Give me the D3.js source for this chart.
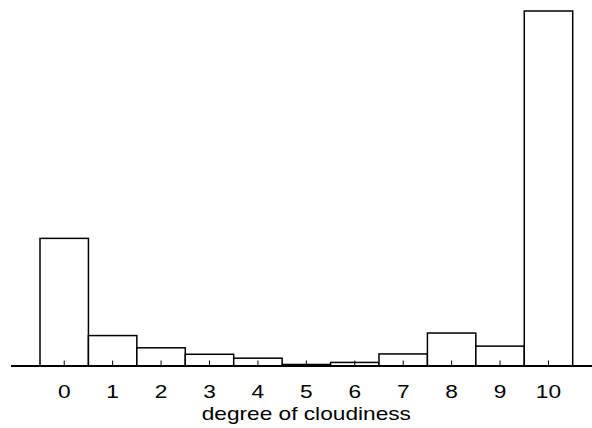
<!DOCTYPE html>
<html>
<head>
<meta charset="utf-8">
<script src="https://cdn.jsdelivr.net/npm/d3@7"></script>
<style>
  body { margin: 0; background: #fff; }
  svg text { font-family: "Liberation Sans", Arial, Helvetica, sans-serif; fill: #000; }
</style>
</head>
<body>
<svg id="chart" width="592" height="428"></svg>
<script>
// cloudiness degrees 0..10 and their counts
var categories = ["0", "1", "2", "3", "4", "5", "6", "7", "8", "9", "10"];
var counts = [751, 179, 107, 69, 46, 9, 21, 71, 194, 117, 2089];
var xLabel = "degree of cloudiness";

var svg = d3.select("#chart");

var baseY = 366,
    topY = 11,
    stretch = 1.26; // glyphs in the reference are drawn wide

var x = d3.scaleBand()
    .domain(categories)
    .range([40, 572.7])
    .padding(0);

var y = d3.scaleLinear()
    .domain([0, d3.max(counts)])
    .range([baseY, topY]);

var data = categories.map(function(c, i) {
  return {cat: c, value: counts[i]};
});

// bars
svg.append("g")
  .selectAll("rect")
  .data(data)
  .enter().append("rect")
    .attr("x", function(d) { return x(d.cat); })
    .attr("y", function(d) { return y(d.value); })
    .attr("width", x.bandwidth())
    .attr("height", function(d) { return baseY - y(d.value); })
    .attr("fill", "#fff")
    .attr("stroke", "#000")
    .attr("stroke-width", 1.5);

// baseline runs past the bars on both sides
svg.append("line")
  .attr("x1", 11)
  .attr("x2", 592)
  .attr("y1", baseY)
  .attr("y2", baseY)
  .attr("stroke", "#000")
  .attr("stroke-width", 2);

// ticks point up into the bars
var axis = d3.axisBottom(x)
  .tickSize(-5.5)
  .tickPadding(19);

var gAxis = svg.append("g")
  .attr("transform", "translate(0," + baseY + ")")
  .call(axis);

gAxis.select(".domain").remove();
gAxis.selectAll(".tick line")
  .attr("stroke", "#000")
  .attr("stroke-width", 1);
gAxis.selectAll(".tick text")
  .attr("font-size", 18)
  .attr("font-family", "Liberation Sans, Arial, sans-serif")
  .attr("fill", "#000")
  .attr("transform", "scale(" + stretch + ",1)");

// x axis title
svg.append("text")
  .attr("transform", "translate(306.3,420) scale(" + stretch + ",1)")
  .attr("text-anchor", "middle")
  .attr("font-size", 18)
  .text(xLabel);
</script>
</body>
</html>
